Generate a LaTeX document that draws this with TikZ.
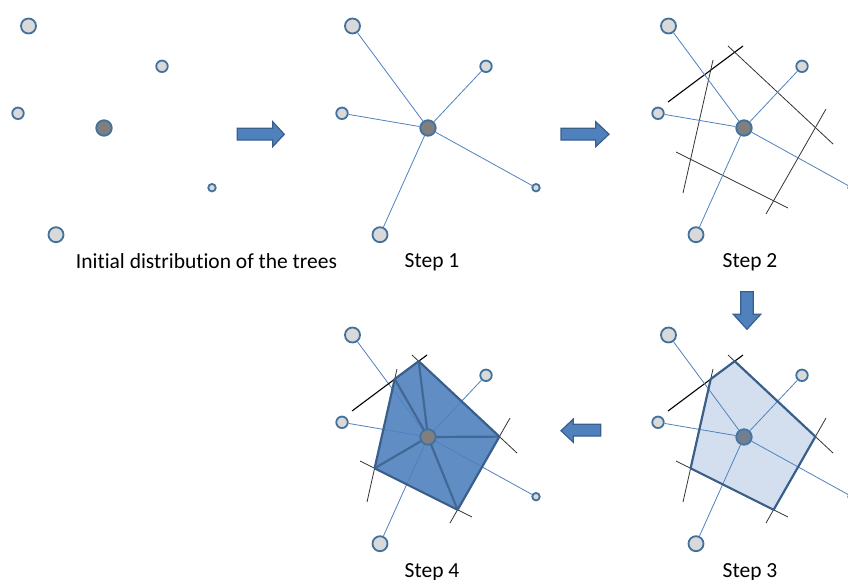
\documentclass[tikz,border=0pt]{standalone}
\usepackage{fontspec}
\setmainfont{Carlito}[Ligatures=NoCommon]
\usetikzlibrary{backgrounds}

\definecolor{treeedge}{HTML}{41719C}
\definecolor{treefill}{HTML}{D9D9D9}
\definecolor{seedfill}{HTML}{7F7F7F}
\definecolor{linkblue}{HTML}{4F81BD}
\definecolor{cellblue}{HTML}{4F81BD}
\definecolor{celledge}{HTML}{3A5F8B}

\begin{document}
\begin{tikzpicture}[x=1pt,y=-1pt,
    tree/.style={circle,draw=treeedge,fill=treefill,line width=1.8pt,inner sep=0pt},
    bigtree/.style={tree,minimum size=15pt},
    midtree/.style={tree,minimum size=11.5pt},
    smalltree/.style={tree,minimum size=7.5pt},
    seed/.style={circle,draw=treeedge,fill=seedfill,line width=1.8pt,inner sep=0pt,minimum size=15.5pt},
    link/.style={draw=linkblue,line width=0.8pt},
    bisector/.style={draw=black!80,line width=0.8pt},
    firstbisector/.style={draw=black,line width=1.1pt},
    cellline/.style={draw=celledge,line width=2.2pt,line join=round},
    blockarrow/.style={fill=cellblue,draw=celledge,line width=1.2pt,line join=miter},
    caption/.style={anchor=base,font=\fontsize{21.5}{24}\selectfont}]

    \useasboundingbox (0,0) rectangle (848,579);

    % initial distribution
    \begin{scope}[shift={(104,128)}]
        \node[bigtree] (a0) at (-75.5,-102) {};
        \node[midtree] (b0) at (58,-61.7) {};
        \node[midtree] (c0) at (-86,-14.7) {};
        \node[seed] (s0) at (0,0) {};
        \node[smalltree] (e0) at (108,59.7) {};
        \node[bigtree] (f0) at (-48,106.7) {};
    \end{scope}
    \node[caption] (cap0) at (206.5,268) {Initial distribution of the trees};

    \filldraw[blockarrow] (237.3,128.3) -- (272.7,128.3) -- (272.7,121.7) -- (284.3,134.3)
        -- (272.7,146.7) -- (272.7,140) -- (237.3,140) -- cycle;

    % step 1
    \begin{scope}[shift={(428,128)}]
        \node[bigtree] (a1) at (-75.5,-102) {};
        \node[midtree] (b1) at (58,-61.7) {};
        \node[midtree] (c1) at (-86,-14.7) {};
        \node[seed] (s1) at (0,0) {};
        \node[smalltree] (e1) at (108,59.7) {};
        \node[bigtree] (f1) at (-48,106.7) {};
        \draw[link] (s1) -- (a1);
        \draw[link] (s1) -- (b1);
        \draw[link] (s1) -- (c1);
        \draw[link] (s1) -- (e1);
        \draw[link] (s1) -- (f1);
    \end{scope}
    \node[caption] (cap1) at (432,267) {Step 1};

    \filldraw[blockarrow] (561,128.3) -- (595.7,128.3) -- (595.7,121.7) -- (609,134.2)
        -- (595.7,146.7) -- (595.7,140) -- (561,140) -- cycle;

    % step 2
    \begin{scope}[shift={(744,128)}]
        \draw[firstbisector] (-76,-26) -- (-1,-82);
        \draw[bisector] (-31,-68) -- (-61,65);
        \draw[bisector] (-16,-82) -- (89,16);
        \draw[bisector] (82,-19) -- (22,86);
        \draw[bisector] (-68,24) -- (44,80);
        \node[bigtree] (a2) at (-75.5,-102) {};
        \node[midtree] (b2) at (58,-61.7) {};
        \node[midtree] (c2) at (-86,-14.7) {};
        \node[seed] (s2) at (0,0) {};
        \node[smalltree] (e2) at (108,59.7) {};
        \node[bigtree] (f2) at (-48,106.7) {};
        \draw[link] (s2) -- (a2);
        \draw[link] (s2) -- (b2);
        \draw[link] (s2) -- (c2);
        \draw[link] (s2) -- (e2);
        \draw[link] (s2) -- (f2);
    \end{scope}
    \node[caption] (cap2) at (750,267) {Step 2};

    \filldraw[blockarrow] (740.7,291.7) -- (753.3,291.7) -- (753.3,314.3) -- (760.7,314.3)
        -- (747,329.3) -- (733.3,314.3) -- (740.7,314.3) -- cycle;

    % step 3
    \begin{scope}[shift={(744,437)}]
        \draw[firstbisector] (-76,-26) -- (-1,-82);
        \draw[bisector] (-31,-68) -- (-61,65);
        \draw[bisector] (-16,-82) -- (89,16);
        \draw[bisector] (82,-19) -- (22,86);
        \draw[bisector] (-68,24) -- (44,80);
        \node[bigtree] (a3) at (-75.5,-102) {};
        \node[midtree] (b3) at (58,-61.7) {};
        \node[midtree] (c3) at (-86,-14.7) {};
        \node[seed] (s3) at (0,0) {};
        \node[smalltree] (e3) at (108,59.7) {};
        \node[bigtree] (f3) at (-48,106.7) {};
        \draw[link] (s3) -- (a3);
        \draw[link] (s3) -- (b3);
        \draw[link] (s3) -- (c3);
        \draw[link] (s3) -- (e3);
        \draw[link] (s3) -- (f3);
        \filldraw[cellline,fill=cellblue,fill opacity=0.25] (-9.3,-75.8) -- (-33.3,-57.9)
            -- (-53.4,31.3) -- (29.6,72.8) -- (71.4,-0.4) -- cycle;
    \end{scope}
    \node[caption] (cap3) at (750,577) {Step 3};

    \filldraw[blockarrow] (600.7,424.3) -- (573.3,424.3) -- (573.3,419) -- (561,430.7)
        -- (573.3,442.3) -- (573.3,436) -- (600.7,436) -- cycle;

    % step 4
    \begin{scope}[shift={(428,437)}]
        \draw[firstbisector] (-76,-26) -- (-1,-82);
        \draw[bisector] (-31,-68) -- (-61,65);
        \draw[bisector] (-16,-82) -- (89,16);
        \draw[bisector] (82,-19) -- (22,86);
        \draw[bisector] (-68,24) -- (44,80);
        \node[bigtree] (a4) at (-75.5,-102) {};
        \node[midtree] (b4) at (58,-61.7) {};
        \node[midtree] (c4) at (-86,-14.7) {};
        \node[smalltree] (e4) at (108,59.7) {};
        \node[bigtree] (f4) at (-48,106.7) {};
        \filldraw[cellline,fill=cellblue,fill opacity=0.9] (-9.3,-75.8) -- (-33.3,-57.9)
            -- (-53.4,31.3) -- (29.6,72.8) -- (71.4,-0.4) -- cycle;
        \draw[cellline,draw opacity=0.8] (0,0) -- (-9.3,-75.8);
        \draw[cellline,draw opacity=0.8] (0,0) -- (-33.3,-57.9);
        \draw[cellline,draw opacity=0.8] (0,0) -- (-53.4,31.3);
        \draw[cellline,draw opacity=0.8] (0,0) -- (29.6,72.8);
        \draw[cellline,draw opacity=0.8] (0,0) -- (71.4,-0.4);
        \node[seed] (s4) at (0,0) {};
        \begin{scope}[on background layer]
            \draw[link] (s4) -- (a4);
            \draw[link] (s4) -- (b4);
            \draw[link] (s4) -- (c4);
            \draw[link] (s4) -- (e4);
            \draw[link] (s4) -- (f4);
        \end{scope}
    \end{scope}
    \node[caption] (cap4) at (432,577) {Step 4};

\end{tikzpicture}
\end{document}
